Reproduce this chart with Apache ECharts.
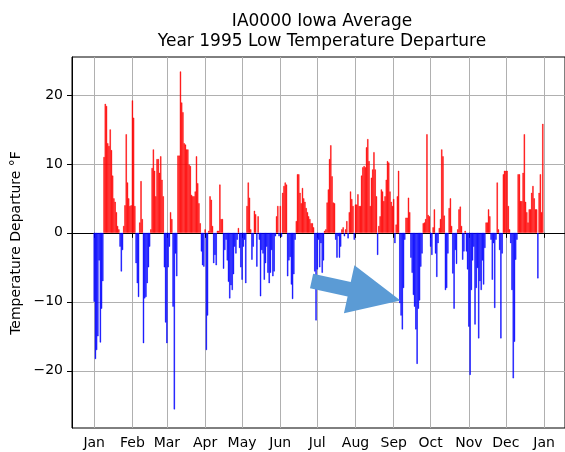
<!DOCTYPE html>
<html><head><meta charset="utf-8">
<script src="https://cdn.jsdelivr.net/npm/echarts@6/dist/echarts.min.js"></script>
<style>html,body{margin:0;padding:0;background:#fff}#chart{width:565px;height:452px}</style>
</head><body><div id="chart"></div>
<script>
// ---- data ----
const monthLabels = ['Jan','Feb','Mar','Apr','May','Jun','Jul','Aug','Sep','Oct','Nov','Dec','Jan'];
const monthStartDays = [0,31,59,90,120,151,181,212,243,273,304,334,365];
const yTicks = [-20,-10,0,10,20];
const depJan = [-10,-18.3,-17,-15,-4,-15.9,-11,-7,11,18.7,18.4,13,12.6,15,12,8.3,5,4.5,3,1,0.5,-2,-5.6,-2.5,1,4,14.3,7.3,5,3.9,4];
const depFeb = [19.2,16.7,3.9,-4.4,-7.3,-9.3,1.5,7.5,2,-16,-9.5,-9.3,-7.3,-5,-2,0.5,9.4,12.1,9,5.3,10.7,10.7,8.7,11.1,7.7,5.3,-5,-13];
const depMar = [-16,-5,-2,3,2,-10.7,-25.6,-3,-6.3,11.2,11.2,23.4,18.9,17.5,13,12.8,12.1,12.1,9.9,9.7,5.5,5.3,5.3,6,11.1,7.2,4.3,1.4,-2.7,-4.7,-4.9];
const depApr = [0.5,-17,-12,0.3,5.3,4.8,1,-4.4,-3.2,-4.7,0.3,0.3,7,2,2,-5.2,-2.5,-1,-4,-7.1,-9.5,-7.6,-8.3,-6,-2,-3,-1,0.7,-2.2,-5];
const depMay = [-6.8,-2,-1,-7.3,3.9,7.3,5.1,0.5,-3.9,-2,3.2,2.7,-4.9,2.4,-1,-9.2,-2.5,-3,-6.8,-4.4,-2,-5.8,-7.3,-5.8,-2.5,-6.3,-5.6,-0.5,2.4,3.9,-0.5];
const depJun = [3.9,-0.6,5.8,6.8,7.3,7,-6.3,-4,-3.5,-7.5,-9.6,-6,-1,1.7,8.5,8.5,5.8,4.3,6.5,5,4.5,3.6,3,2.4,2,1.4,1.4,0.8,-5.6,-12.7];
const depJul = [-5.3,-1,-5,-1.5,-5.8,-4,0.3,0.5,4.4,6.3,10.7,12.7,8.2,4.4,4.3,-1,-3.6,-0.5,-3.6,-2,0.5,0.8,-0.5,0.5,1.7,-0.8,3,6,4.9,3.9,-1];
const depAug = [4.1,4.1,5.6,3.9,3.9,8.3,9.5,9.7,9.5,12.4,13.6,10.4,3.9,8,9.2,11.7,9.2,5.3,-3.2,1,2.4,6.3,6,4.6,5.3,7.7,10.4,10.2,6,4.5,3.9];
const depSep = [4.9,-1.5,1.2,5.3,9,-10.2,-12,-14,-8,-1,2.2,2.2,5.1,3,-3.6,-5.8,-9,-10.7,-14,-19,-11,-9.8,-4.9,-3,1.4,1.5,2,14.3,2.6,2.4];
const depOct = [-2,-3.2,0.8,3.4,-3,-6.4,-1.5,0.7,2,12.1,11.1,2.5,-8.3,-8,-3,3.6,5,1,-5.9,-11,-2.5,-4.5,0.5,3.4,3.8,1,-3.9,-2.7,0.3,-2.7,-5.3];
const depNov = [-13.6,-20.6,-8.3,-4,-2,-13.3,-8,-5.1,-15.3,-7,-8.3,-4,-7.5,-2.2,1.5,1.5,3.4,2.4,-1,-6.8,-1.5,-10.9,-1,7.3,0.5,-2.5,-15.3,-3,8.5,9];
const depDec = [9,9,3.9,0.5,-1.5,-8.3,-21.1,-15.8,-3.9,-1,8.5,8.5,4.6,4.6,8.7,14.3,4.5,3,1.5,3.4,3.4,5.8,6.8,5,3.4,3.4,-6.6,5.8,8.5,3,15.8];
const titleLines = ['IA0000 Iowa Average','Year 1995 Low Temperature Departure'];
const yAxisTitle = 'Temperature Departure \u00B0F';
const arrowTarget = [249, -9.8]; // day index, value the annotation arrow points at

// ---- build ----
const daily = [].concat(depJan,depFeb,depMar,depApr,depMay,depJun,depJul,depAug,depSep,depOct,depNov,depDec);
const padBefore = 18, padAfter = 18;
const nCat = padBefore + 365 + padAfter; // days -18 .. 382
const cats = [], posData = [], negData = [];
for (let i = 0; i < nCat; i++) {
  const d = i - padBefore;
  cats.push(String(d));
  const v = d >= 0 && d < daily.length ? daily[d] : null;
  posData.push(v !== null && v >= 0 ? v : null);
  negData.push(v !== null && v < 0 ? v : null);
}
const labelAt = {};
monthStartDays.forEach((d, k) => { labelAt[d + padBefore] = monthLabels[k]; });
const isMonth = (idx) => labelAt[idx] !== undefined;
const FONT = '"DejaVu Sans", sans-serif';
const fmtNum = v => (v < 0 ? '\u2212' + Math.abs(v) : String(v));

const chart = echarts.init(document.getElementById('chart'), null, {renderer: 'canvas'});
chart.setOption({
  animation: false,
  backgroundColor: '#fff',
  grid: {left: 72, top: 57, width: 500, height: 371, show: true, borderColor: '#000', borderWidth: 1, backgroundColor: 'transparent'},
  xAxis: {
    type: 'category', data: cats, boundaryGap: false,
    axisLine: {show: true, lineStyle: {color: '#000', width: 1}},
    axisTick: {show: true, interval: (i) => isMonth(i), length: 5, lineStyle: {color: '#000', width: 1}},
    axisLabel: {show: true, interval: (i) => isMonth(i), formatter: (v, i) => labelAt[i] || '', color: '#000', fontFamily: FONT, fontSize: 14, margin: 8},
    splitLine: {show: true, interval: (i) => isMonth(i), lineStyle: {color: '#b0b0b0', width: 1}}
  },
  yAxis: {
    type: 'value', min: -28.3, max: 25.5,
    axisLine: {show: true, lineStyle: {color: '#000', width: 1}},
    axisTick: {show: true, length: 5, customValues: yTicks, lineStyle: {color: '#000', width: 1}},
    axisLabel: {show: true, customValues: yTicks, formatter: fmtNum, color: '#000', fontFamily: FONT, fontSize: 14, margin: 9},
    splitLine: {show: true, lineStyle: {color: '#b0b0b0', width: 1}}
  },
  series: [
    {type: 'bar', name: 'above', data: posData, barCategoryGap: '0%', barGap: '-100%',
     itemStyle: {color: '#ff0000', borderColor: '#ff0000', borderWidth: 0.45}, emphasis: {disabled: true}},
    {type: 'bar', name: 'below', data: negData, barCategoryGap: '0%', barGap: '-100%',
     itemStyle: {color: '#0000ff', borderColor: '#0000ff', borderWidth: 0.45}, emphasis: {disabled: true}}
  ]
});

// annotation arrow anchored to the data point it points at
const tip = chart.convertToPixel({xAxisIndex: 0, yAxisIndex: 0}, [arrowTarget[0] + padBefore, arrowTarget[1]]);
const tx = tip[0] - 0.6, ty = tip[1];
const ux = 0.977, uy = 0.213, nx = -0.213, ny = 0.977;
const local = [[0,0],[-52.5,-24.6],[-52.5,-7.4],[-91,-7.4],[-91,7.4],[-52.5,7.4],[-52.5,24.6]];
const pts = local.map(([a, b]) => [tx + a*ux + b*nx, ty + a*uy + b*ny]);

chart.setOption({
  graphic: [
    {type: 'text', x: 322, y: 21.5, z: 50, style: {text: titleLines[0], font: '17px ' + FONT, fill: '#000', textAlign: 'center', textVerticalAlign: 'middle', align: 'center', verticalAlign: 'middle'}},
    {type: 'text', x: 322, y: 42, z: 50, style: {text: titleLines[1], font: '17px ' + FONT, fill: '#000', textAlign: 'center', textVerticalAlign: 'middle', align: 'center', verticalAlign: 'middle'}},
    {type: 'text', x: 16, y: 243, rotation: Math.PI/2, z: 50, style: {text: yAxisTitle, font: '14px ' + FONT, fill: '#000', textAlign: 'center', textVerticalAlign: 'middle', align: 'center', verticalAlign: 'middle'}},
    {type: 'polygon', z: 60, shape: {points: pts}, style: {fill: '#5b9bd5', stroke: null}}
  ]
});
</script></body></html>
